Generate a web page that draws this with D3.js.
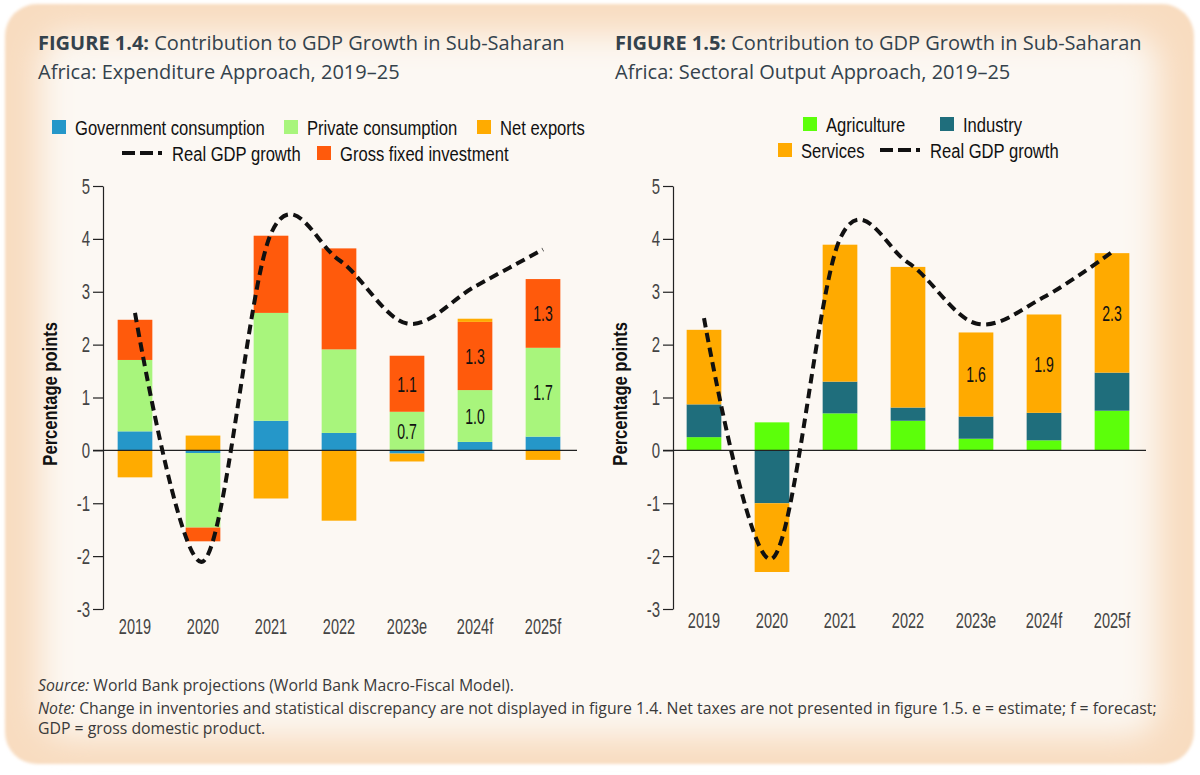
<!DOCTYPE html>
<html>
<head>
<meta charset="utf-8">
<script src="https://cdn.jsdelivr.net/npm/d3@7"></script>
<style>
  body { margin: 0; background: #fff; }
  svg { display: block; }
</style>
</head>
<body>
<svg id="fig" width="1200" height="775"></svg>
<script>
// ========= Data ========= //
const years = ['2019', '2020', '2021', '2022', '2023e', '2024f', '2025f'];
const yTicks = [-3, -2, -1, 0, 1, 2, 3, 4, 5];

// figure 1.4 - expenditure approach
const govConsumption = [0.36, -0.05, 0.56, 0.33, -0.06, 0.16, 0.26];
const privConsumption = [1.35, -1.41, 2.04, 1.58, 0.73, 0.98, 1.68];
const grossFixedInvestment = [0.76, -0.26, 1.46, 1.91, 1.06, 1.29, 1.30];
const netExports = [-0.51, 0.28, -0.91, -1.33, -0.15, 0.06, -0.18];
const gdpExpenditure = [2.6, -2.1, 4.1, 3.6, 2.4, 3.1, 3.8];

// figure 1.5 - sectoral output approach
const agriculture = [0.25, 0.53, 0.70, 0.56, 0.22, 0.19, 0.75];
const industry = [0.62, -1.0, 0.60, 0.25, 0.42, 0.52, 0.72];
const services = [1.41, -1.3, 2.59, 2.66, 1.59, 1.86, 2.26];
const gdpSectoral = [2.5, -2.05, 4.0, 3.55, 2.4, 2.9, 3.75];

// segments that carry a value label
const labelledYears = ['2023e', '2024f', '2025f'];

// no condensed face is installed, so an Arial-metric face is squeezed horizontally
const narrow = "'Liberation Sans', Arial, sans-serif";
const titleFont = "'Open Sans', Lato, sans-serif";

const svg = d3.select('#fig');

function squeeze(sel, sx) {
  sel.each(function() {
    const t = d3.select(this);
    const x = +t.attr('x') || 0;
    const y = +t.attr('y') || 0;
    const prev = t.attr('transform') || '';
    t.attr('x', 0).attr('y', 0)
      .attr('transform', `${prev} translate(${x},${y}) scale(${sx},1)`);
  });
}

// ========= Background panel ========= //
const defs = svg.append('defs');
defs.append('filter')
    .attr('id', 'glow')
    .attr('x', '-10%').attr('y', '-10%')
    .attr('width', '120%').attr('height', '120%')
  .append('feGaussianBlur')
    .attr('stdDeviation', 16);
defs.append('filter')
    .attr('id', 'edge')
  .append('feGaussianBlur')
    .attr('stdDeviation', 1.5);

svg.append('rect')
    .attr('x', 5).attr('y', 4)
    .attr('width', 1189).attr('height', 760)
    .attr('rx', 32)
    .attr('fill', '#f8dcc0')
    .attr('filter', 'url(#edge)');

svg.append('rect')
    .attr('x', 40).attr('y', 34)
    .attr('width', 1118).attr('height', 702)
    .attr('rx', 30)
    .attr('fill', '#fcf8f3')
    .attr('filter', 'url(#glow)');

// ========= Chart builder ========= //
function drawChart(opts) {
  const g = svg.append('g');

  const x = d3.scaleBand()
    .domain(years)
    .range(opts.xRange)
    .paddingInner(0.49)
    .paddingOuter(0.245);

  const y = d3.scaleLinear()
    .domain([-3, 5])
    .range([609, 186]);

  const rows = years.map((yr, i) => {
    const row = { year: yr };
    opts.series.forEach(s => { row[s.key] = s.values[i]; });
    return row;
  });

  const stack = d3.stack()
    .keys(opts.series.map(s => s.key))
    .offset(d3.stackOffsetDiverging);
  const layers = stack(rows);

  // bars
  g.append('g')
    .selectAll('g')
    .data(layers)
    .join('g')
      .attr('fill', d => opts.series.find(s => s.key === d.key).color)
    .selectAll('rect')
    .data(d => d)
    .join('rect')
      .attr('x', d => x(d.data.year))
      .attr('width', x.bandwidth())
      .attr('y', d => y(Math.max(d[0], d[1])))
      .attr('height', d => Math.abs(y(d[0]) - y(d[1])));

  // value labels
  const labelData = [];
  layers.forEach(layer => {
    const s = opts.series.find(s => s.key === layer.key);
    if (!s.labelled) return;
    layer.forEach(d => {
      if (labelledYears.includes(d.data.year)) {
        labelData.push({ year: d.data.year, mid: (d[0] + d[1]) / 2, v: d.data[layer.key] });
      }
    });
  });
  g.append('g')
    .selectAll('text')
    .data(labelData)
    .join('text')
      .attr('x', d => x(d.year) + x.bandwidth() / 2)
      .attr('y', d => y(d.mid))
      .attr('dy', '0.36em')
      .attr('text-anchor', 'middle')
      .attr('font-family', narrow)
      .attr('font-size', 22)
      .attr('fill', '#111')
      .text(d => d3.format('.1f')(d.v))
      .call(squeeze, 0.64);

  // zero line
  g.append('line')
    .attr('x1', opts.axisX - 10)
    .attr('x2', opts.xRange[1])
    .attr('y1', y(0)).attr('y2', y(0))
    .attr('stroke', '#222')
    .attr('stroke-width', 1.2);

  // y axis
  const yAxis = g.append('g')
    .attr('transform', `translate(${opts.axisX},0)`)
    .call(d3.axisLeft(y)
      .tickValues(yTicks)
      .tickSize(10)
      .tickSizeOuter(0)
      .tickPadding(3)
      .tickFormat(d => String(d)));
  yAxis.select('.domain').attr('stroke', '#222').attr('stroke-width', 1.2);
  yAxis.selectAll('.tick line').attr('stroke', '#222').attr('stroke-width', 1.2);
  yAxis.selectAll('.tick text')
    .attr('font-family', narrow)
    .attr('font-size', 22)
    .attr('fill', '#444')
    .call(squeeze, 0.68);

  // x labels
  const xAxis = g.append('g')
    .attr('transform', 'translate(0,609)')
    .call(d3.axisBottom(x).tickSize(0).tickPadding(opts.xPad));
  xAxis.select('.domain').remove();
  xAxis.selectAll('.tick text')
    .attr('font-family', narrow)
    .attr('font-size', 22)
    .attr('fill', '#444')
    .call(squeeze, 0.66);

  // y axis title
  g.append('text')
    .attr('transform', `translate(${opts.axisX - 46},${y(1.07)}) rotate(-90)`)
    .attr('text-anchor', 'middle')
    .attr('font-family', narrow)
    .attr('font-weight', 'bold')
    .attr('font-size', 21)
    .attr('fill', '#111')
    .text('Percentage points')
    .call(squeeze, 0.79);

  // real GDP line
  const line = d3.line()
    .x((d, i) => x(years[i]) + x.bandwidth() / 2)
    .y(d => y(d))
    .curve(d3.curveCardinal);
  g.append('path')
    .attr('d', line(opts.gdp))
    .attr('fill', 'none')
    .attr('stroke', '#111')
    .attr('stroke-width', 4)
    .attr('stroke-dasharray', '9.5,5.5');

  // title
  const title = g.append('text')
    .attr('font-family', titleFont)
    .attr('font-size', 20)
    .attr('fill', '#34424c');
  title.append('tspan')
    .attr('x', opts.titleX).attr('y', 50)
    .attr('font-weight', 'bold')
    .text(opts.figure);
  title.append('tspan')
    .text(' Contribution to GDP Growth in Sub-Saharan');
  title.append('tspan')
    .attr('x', opts.titleX).attr('y', 79)
    .text(opts.subtitle);

  // legend
  const lg = g.append('g')
    .attr('font-family', narrow)
    .attr('font-size', 21)
    .attr('fill', '#111');
  opts.legend.forEach(item => {
    let tx = item.x + 23;
    if (item.dashed) {
      lg.append('line')
        .attr('x1', item.x).attr('x2', item.x + 40)
        .attr('y1', item.y).attr('y2', item.y)
        .attr('stroke', '#111')
        .attr('stroke-width', 4)
        .attr('stroke-dasharray', '13,5');
      tx = item.x + 50;
    } else {
      lg.append('rect')
        .attr('x', item.x).attr('y', item.y - 7)
        .attr('width', 14).attr('height', 14)
        .attr('fill', item.color);
    }
    lg.append('text')
      .attr('x', tx).attr('y', item.y)
      .attr('dy', '0.36em')
      .text(item.label)
      .call(squeeze, 0.79);
  });
}

const colors = {
  gov: '#2597c9',
  priv: '#a8f57c',
  gfi: '#ff5a0c',
  net: '#ffab00',
  agri: '#5cff0a',
  ind: '#1f6e7c',
  serv: '#ffaa00'
};

drawChart({
  xRange: [101, 577],
  axisX: 103,
  xPad: 9,
  titleX: 38,
  figure: 'FIGURE 1.4:',
  subtitle: 'Africa: Expenditure Approach, 2019–25',
  gdp: gdpExpenditure,
  series: [
    { key: 'gov', values: govConsumption, color: colors.gov },
    { key: 'priv', values: privConsumption, color: colors.priv, labelled: true },
    { key: 'gfi', values: grossFixedInvestment, color: colors.gfi, labelled: true },
    { key: 'net', values: netExports, color: colors.net }
  ],
  legend: [
    { label: 'Government consumption', color: colors.gov, x: 52, y: 127 },
    { label: 'Private consumption', color: colors.priv, x: 284, y: 127 },
    { label: 'Net exports', color: colors.net, x: 477, y: 127 },
    { label: 'Real GDP growth', dashed: true, x: 122, y: 153 },
    { label: 'Gross fixed investment', color: colors.gfi, x: 317, y: 153 }
  ]
});

drawChart({
  xRange: [670, 1146],
  axisX: 673,
  xPad: 3,
  titleX: 615,
  figure: 'FIGURE 1.5:',
  subtitle: 'Africa: Sectoral Output Approach, 2019–25',
  gdp: gdpSectoral,
  series: [
    { key: 'agri', values: agriculture, color: colors.agri },
    { key: 'ind', values: industry, color: colors.ind },
    { key: 'serv', values: services, color: colors.serv, labelled: true }
  ],
  legend: [
    { label: 'Agriculture', color: colors.agri, x: 803, y: 124 },
    { label: 'Industry', color: colors.ind, x: 940, y: 124 },
    { label: 'Services', color: colors.serv, x: 778, y: 150 },
    { label: 'Real GDP growth', dashed: true, x: 880, y: 150 }
  ]
});

// ========= Footnotes ========= //
const notes = svg.append('g')
  .attr('font-family', titleFont)
  .attr('font-size', 15.8)
  .attr('fill', '#3a3a3a');
const src = notes.append('text').attr('x', 38).attr('y', 691);
src.append('tspan').attr('font-style', 'italic').text('Source:');
src.append('tspan').text(' World Bank projections (World Bank Macro-Fiscal Model).');
const note = notes.append('text').attr('x', 38).attr('y', 714);
note.append('tspan').attr('font-style', 'italic').text('Note:');
note.append('tspan').text(' Change in inventories and statistical discrepancy are not displayed in figure 1.4. Net taxes are not presented in figure 1.5. e = estimate; f = forecast;');
notes.append('text').attr('x', 38).attr('y', 734)
  .text('GDP = gross domestic product.');
</script>
</body>
</html>
